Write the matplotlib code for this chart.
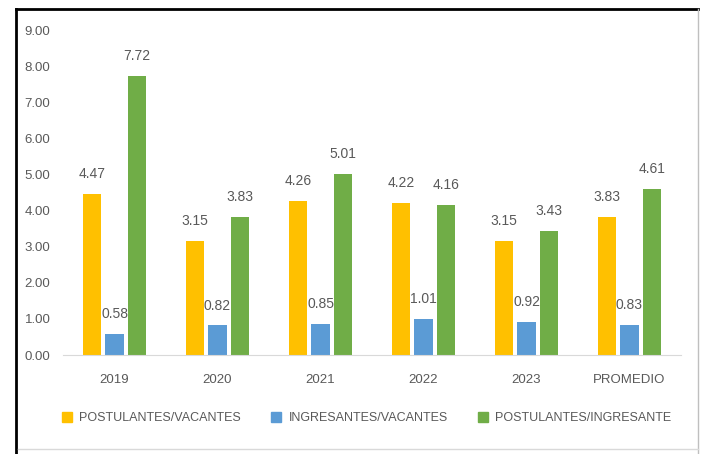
import matplotlib.pyplot as plt
import numpy as np
from matplotlib.lines import Line2D

plt.rcParams['font.family'] = ['Liberation Sans', 'DejaVu Sans']

# === Data ===
categories = ['2019', '2020', '2021', '2022', '2023', 'PROMEDIO']
postulantes_vacantes = [4.47, 3.15, 4.26, 4.22, 3.15, 3.83]
ingresantes_vacantes = [0.58, 0.82, 0.85, 1.01, 0.92, 0.83]
postulantes_ingresante = [7.72, 3.83, 5.01, 4.16, 3.43, 4.61]
series_names = ['POSTULANTES/VACANTES', 'INGRESANTES/VACANTES', 'POSTULANTES/INGRESANTE']
colors = ['#FFC000', '#5B9BD5', '#70AD47']
text_color = '#595959'

# === Plot ===
fig = plt.figure(figsize=(7.02, 4.54), dpi=100)
ax = fig.add_axes([63 / 702, 1 - 355 / 454, 618 / 702, 325 / 454])

x = np.arange(len(categories))
width = 0.175
offsets = [-0.218, 0, 0.218]
all_series = [postulantes_vacantes, ingresantes_vacantes, postulantes_ingresante]
for vals, off, col in zip(all_series, offsets, colors):
    bars = ax.bar(x + off, vals, width, color=col)
    for b, v in zip(bars, vals):
        ax.text(b.get_x() + b.get_width() / 2, v + 0.55, f'{v:.2f}',
                ha='center', va='center', fontsize=10, color=text_color)

ax.set_xlim(-0.5, len(categories) - 0.5)
ax.set_ylim(0, 9)
ax.set_yticks(np.arange(0, 10, 1))
ax.set_yticklabels([f'{v:.2f}' for v in np.arange(0, 10, 1)])
ax.set_xticks(x)
ax.set_xticklabels(categories)
ax.tick_params(axis='both', length=0, labelsize=9.5, labelcolor=text_color)
ax.tick_params(axis='x', pad=14)
ax.tick_params(axis='y', pad=9)
for s in ['top', 'right', 'left']:
    ax.spines[s].set_visible(False)
ax.spines['bottom'].set_color('#D9D9D9')

handles = [Line2D([0], [0], marker='s', linestyle='none', markersize=7,
                  markerfacecolor=c, markeredgecolor=c) for c in colors]
fig.legend(handles, series_names, loc='center', bbox_to_anchor=(363 / 702, 1 - 418 / 454),
           ncol=3, frameon=False, fontsize=9, labelcolor=text_color,
           handletextpad=0.0, columnspacing=1.8)

# outer frame
fig.add_artist(Line2D([16 / 702, 698 / 702], [1 - 9 / 454, 1 - 9 / 454], color='black', lw=2))
fig.add_artist(Line2D([16 / 702, 16 / 702], [0, 1 - 9 / 454], color='black', lw=2))
fig.add_artist(Line2D([698 / 702, 698 / 702], [0, 1 - 9 / 454], color='#BFBFBF', lw=1))
fig.add_artist(Line2D([18 / 702, 698 / 702], [1 - 449 / 454, 1 - 449 / 454], color='#D9D9D9', lw=1))

fig.savefig('out.png', dpi=100)
